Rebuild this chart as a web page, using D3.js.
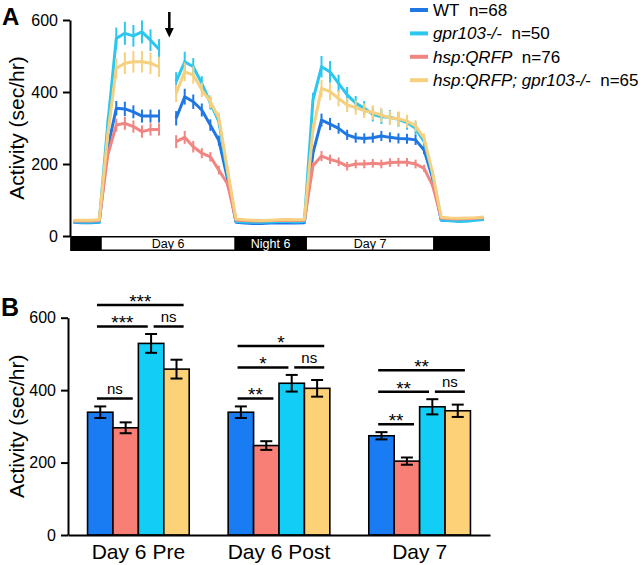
<!DOCTYPE html>
<html><head><meta charset="utf-8">
<script src="https://cdn.jsdelivr.net/npm/d3@7"></script>
<style>
body{margin:0;background:#fff}
svg{display:block}
text{font-family:"Liberation Sans",Arial,Helvetica,sans-serif;fill:#000}
</style>
</head><body>
<svg id="c" width="640" height="565"></svg>
<script>
// ---------- Panel A data ----------
const hours = d3.range(1, 50); // hour index 1..49
const wtLine = [38,37,37,38, 245, 355,353,345,333,333,333, null, 327,387,373,350,308,265,160,
  38,36,35,35,36,37,36,36,37, 230, 322,311,299,281,273,271,273,278,274,271,270,267,239, 160, 44,43,44,45,46,47];
const wtErr = [3,3,3,3, 15, 20,20,18,18,18,18, null, 20,22,20,18,16,14,8,
  3,3,3,3,3,3,3,3,3, 12, 18,17,15,14,14,14,14,14,14,14,14,14,12, 8, 3,3,3,3,3,3];
const gprLine = [39,38,38,39, 310, 549,563,556,567,544,519, null, 429,484,470,424,369,318,175,
  40,39,38,38,39,40,40,39,40, 378, 470,456,424,392,369,355,338,331,330,324,315,299,262, 170, 45,42,40,41,44,46];
const gprErr = [3,3,3,3, 20, 30,32,30,32,30,28, null, 26,28,24,20,18,16,10,
  3,3,3,3,3,3,3,3,3, 20, 30,30,24,22,20,20,20,20,20,20,20,18,14, 10, 3,3,3,3,3,3];
const qrfpLine = [42,42,42,43, 225, 308,313,304,290,296,296, null, 262,274,248,230,220,183,145,
  44,43,42,42,43,43,44,43,44, 195, 222,213,206,194,200,200,202,200,204,205,205,200,188, 140, 50,48,47,48,49,51];
const qrfpErr = [3,3,3,3, 12, 18,18,17,17,17,17, null, 18,18,16,14,13,12,8,
  3,3,3,3,3,3,3,3,3, 10, 14,13,12,12,12,12,12,12,12,12,12,12,10, 6, 3,3,3,3,3,3];
const dblLine = [44,44,44,45, 280, 466,480,484,484,480,470, null, 396,456,447,406,373,327,185,
  47,45,44,43,44,45,46,45,46, 294, 410,401,382,364,357,348,343,336,328,326,319,306,271, 175, 52,50,49,50,51,53];
const dblErr = [3,3,3,3, 18, 28,30,30,30,30,28, null, 24,26,24,20,18,16,10,
  3,3,3,3,3,3,3,3,3, 18, 24,24,22,20,20,20,20,20,20,20,18,16,14, 10, 3,3,3,3,3,3];

const seriesNames = ["WT", "gpr103-/-", "hsp:QRFP", "hsp:QRFP; gpr103-/-"];
const seriesN = [68, 50, 76, 65];
const seriesItalic = [false, true, true, true];
const lineColors = ["#2077e3", "#2cc6ee", "#f08581", "#f6d07e"];

const periods = [
  {label: "", start: 0.6, end: 4.3, light: false},
  {label: "Day 6", start: 4.3, end: 19.8, light: true},
  {label: "Night 6", start: 19.8, end: 28.3, light: false},
  {label: "Day 7", start: 28.3, end: 43.05, light: true},
  {label: "", start: 43.05, end: 49.7, light: false}
];
const arrowHour = 12.2;
const yTicks = [0, 200, 400, 600];

// ---------- Panel B data ----------
const groups = ["Day 6 Pre", "Day 6 Post", "Day 7"];
const barOrder = ["WT", "hsp:QRFP", "gpr103-/-", "hsp:QRFP; gpr103-/-"];
const barColors = ["#1a7cf3", "#f87f76", "#12cdf5", "#fdd177"];
const barWT = [339, 339, 274], barWTErr = [16, 16, 10];
const barQRFP = [296, 247, 204], barQRFPErr = [15, 12, 10];
const barGpr = [529, 419, 354], barGprErr = [26, 23, 21];
const barDbl = [458, 405, 343], barDblErr = [26, 23, 17];
// comparisons: bar indices within a group (0 WT,1 QRFP,2 gpr,3 double)
const compPairs = [[0,1],[0,2],[2,3],[0,3]];
const compLabels = [
  ["ns", "***", "ns", "***"],
  ["**", "*", "ns", "*"],
  ["**", "**", "ns", "**"]
];

const svg = d3.select("#c");
const font = '"Liberation Sans",Arial,Helvetica,sans-serif';

// ================= PANEL A =================
const xA = d3.scaleLinear().domain([0, 50]).range([65, 65 + 50 * 8.55]);
const yA = d3.scaleLinear().domain([0, 600]).range([236, 20]);

const gA = svg.append("g");
const axA = gA.append("g").attr("transform", "translate(70,0)")
  .call(d3.axisLeft(yA).tickValues(yTicks).tickSize(7).tickPadding(5).tickSizeOuter(0));
axA.select(".domain").attr("stroke", "#000").attr("stroke-width", 2);
axA.selectAll(".tick line").attr("stroke", "#000").attr("stroke-width", 2);
axA.selectAll(".tick text").attr("font-size", 16).attr("font-family", font).attr("fill", "#000");

gA.append("text").attr("transform", `translate(24,${(yA(0)+yA(600))/2}) rotate(-90)`)
  .attr("text-anchor", "middle").attr("font-size", 21).text("Activity (sec/hr)");
gA.append("text").attr("x", 2).attr("y", 25).attr("font-size", 24).attr("font-weight", "bold").text("A");

// day/night bar
const barTop = 236, barH = 15;
gA.append("rect").attr("x", xA(periods[0].start)).attr("y", barTop)
  .attr("width", xA(periods[periods.length-1].end) - xA(periods[0].start)).attr("height", barH).attr("fill", "#000");
periods.forEach(p => {
  if (p.light) {
    gA.append("rect").attr("x", xA(p.start)).attr("y", barTop + 1.5)
      .attr("width", xA(p.end) - xA(p.start)).attr("height", barH - 3).attr("fill", "#fff");
  }
  if (p.label) {
    gA.append("text").attr("x", (xA(p.start) + xA(p.end)) / 2).attr("y", barTop + 12.3)
      .attr("text-anchor", "middle").attr("font-size", 12.5)
      .style("fill", p.light ? "#000" : "#fff").text(p.label);
  }
});

// lines
const lineData = [wtLine, gprLine, qrfpLine, dblLine];
const errData = [wtErr, gprErr, qrfpErr, dblErr];
const lineGen = d3.line().defined(d => d.v != null).x(d => xA(d.t)).y(d => yA(d.v));
lineData.forEach((vals, si) => {
  const pts = hours.map((t, i) => ({t, v: vals[i], e: errData[si][i]}));
  gA.append("path").datum(pts).attr("d", lineGen).attr("fill", "none")
    .attr("stroke", lineColors[si]).attr("stroke-width", 3).attr("stroke-linejoin", "round");
  gA.append("g").selectAll("line").data(pts.filter(d => d.v != null && d.e > 4)).join("line")
    .attr("x1", d => xA(d.t)).attr("x2", d => xA(d.t))
    .attr("y1", d => yA(d.v - d.e)).attr("y2", d => yA(d.v + d.e))
    .attr("stroke", lineColors[si]).attr("stroke-width", 2);
});

// arrow
const ax = xA(arrowHour);
gA.append("line").attr("x1", ax).attr("x2", ax).attr("y1", 12).attr("y2", 30).attr("stroke", "#000").attr("stroke-width", 2.5);
gA.append("path").attr("d", `M${ax-4.5},28 L${ax+4.5},28 L${ax},37.5 Z`).attr("fill", "#000");

// legend
const legY0 = 10, legStep = 23.4;
seriesNames.forEach((name, i) => {
  const y = legY0 + i * legStep;
  gA.append("line").attr("x1", 410).attr("x2", 428).attr("y1", y).attr("y2", y)
    .attr("stroke", lineColors[i]).attr("stroke-width", 4);
  const t = gA.append("text").attr("x", 433).attr("y", y + 6).attr("font-size", 17);
  t.append("tspan").attr("font-style", seriesItalic[i] ? "italic" : "normal").text(name);
  t.append("tspan").text("\u00a0\u00a0n=" + seriesN[i]);
});

// ================= PANEL B =================
const yB = d3.scaleLinear().domain([0, 600]).range([535, 317.7]);
const xB = d3.scaleBand().domain(groups).range([68, 490]).paddingInner(0.277).paddingOuter(0.139);
const xInner = d3.scaleBand().domain(barOrder).range([0, xB.bandwidth()]);
const bw = xInner.bandwidth();

const gB = svg.append("g");
gB.append("text").attr("x", 1).attr("y", 316).attr("font-size", 25).attr("font-weight", "bold").text("B");
gB.append("text").attr("transform", `translate(24,${(yB(0)+yB(600))/2}) rotate(-90)`)
  .attr("text-anchor", "middle").attr("font-size", 21).text("Activity (sec/hr)");

const barVals = [barWT, barQRFP, barGpr, barDbl];
const barErrs = [barWTErr, barQRFPErr, barGprErr, barDblErr];

groups.forEach((g, gi) => {
  const gx = xB(g);
  barOrder.forEach((b, bi) => {
    const v = barVals[bi][gi], e = barErrs[bi][gi];
    const x = gx + xInner(b);
    gB.append("rect").attr("x", x).attr("y", yB(v)).attr("width", bw).attr("height", yB(0) - yB(v))
      .attr("fill", barColors[bi]).attr("stroke", "#000").attr("stroke-width", 1.6);
    const cx = x + bw / 2;
    gB.append("line").attr("x1", cx).attr("x2", cx).attr("y1", yB(v - e)).attr("y2", yB(v + e))
      .attr("stroke", "#000").attr("stroke-width", 2);
    [v - e, v + e].forEach(ev => {
      gB.append("line").attr("x1", cx - 6).attr("x2", cx + 6).attr("y1", yB(ev)).attr("y2", yB(ev))
        .attr("stroke", "#000").attr("stroke-width", 2);
    });
  });
  // significance brackets
  const tops = barOrder.map((b, bi) => barVals[bi][gi] + barErrs[bi][gi]);
  const tier1 = yB(Math.max(tops[0], tops[1])) - 8;
  const tier2 = yB(d3.max(tops)) - 7.5;
  const tier3 = tier2 - 21.5;
  compPairs.forEach(([a, b], ci) => {
    const ly = ci === 0 ? tier1 : (ci === 3 ? tier3 : tier2);
    const x1 = gx + xInner(barOrder[a]) + (a === 2 ? 0.6 : 0.37) * bw;
    const x2 = gx + xInner(barOrder[b]) + (b === 2 ? 0.37 : 0.78) * bw;
    gB.append("line").attr("x1", x1).attr("x2", x2).attr("y1", ly).attr("y2", ly)
      .attr("stroke", "#000").attr("stroke-width", 2.5);
    const lab = compLabels[gi][ci];
    const isStar = lab.indexOf("*") >= 0;
    gB.append("text").attr("x", (x1 + x2) / 2).attr("y", isStar ? ly + 3 : ly - 4.5)
      .attr("text-anchor", "middle").attr("font-size", isStar ? 19 : 15).text(lab);
  });
});

const axB = gB.append("g").attr("transform", "translate(68,0)")
  .call(d3.axisLeft(yB).tickValues(yTicks).tickSize(7).tickPadding(5).tickSizeOuter(0));
axB.select(".domain").attr("stroke", "#000").attr("stroke-width", 2);
axB.selectAll(".tick line").attr("stroke", "#000").attr("stroke-width", 2);
axB.selectAll(".tick text").attr("font-size", 16).attr("font-family", font).attr("fill", "#000");

const axBx = gB.append("g").attr("transform", `translate(0,${yB(0)})`)
  .call(d3.axisBottom(xB).tickSize(0).tickPadding(9).tickSizeOuter(0));
axBx.select(".domain").attr("stroke", "#000").attr("stroke-width", 2);
axBx.selectAll(".tick text").attr("font-size", 21).attr("font-family", font).attr("fill", "#000");
</script>
</body></html>
